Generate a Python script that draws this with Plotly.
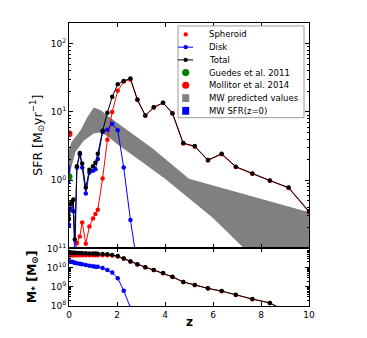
import plotly.graph_objects as go
from plotly.subplots import make_subplots

# ---------------- data ----------------
z = [0, 0.06, 0.12, 0.18, 0.24, 0.33, 0.45, 0.55, 0.7, 0.85, 1.0, 1.1, 1.2, 1.4, 1.6, 1.8,
     2.03, 2.28, 2.56, 2.85, 3.18, 3.53, 3.92, 4.31, 4.76, 5.24, 5.79, 6.36, 6.95, 7.64,
     8.37, 9.15, 10.0]

sfr_total = [0.27, 0.45, 0.47, 0.52, 0.135, 1.6, 2.5, 1.75, 0.78, 1.42, 1.6, 1.8, 2.45,
             5.3, 9.7, 16.7, 25.4, 28.5, 31, 15.2, 8.9, 11.7, 13.7, 9.6, 3.5, 3.16, 1.97,
             2.45, 1.58, 1.25, 0.99, 0.78, 0.35]

sfr_spheroid = [None, None, None, None, 0.06, 0.12, 0.15, 0.24, 0.117, 0.21, 0.275, 0.32,
                0.37, 1.06, 3.9, 10, 20.4, 28, 30, 15.0, 8.8, 11.6, 13.6, 9.5, 3.45, 3.1,
                1.95, 2.4, 1.56, 1.24, 0.98, 0.77, 0.34]

sfr_disk = [0.22, 0.38, 0.47, 0.35, 0.07, 1.53, 2.4, 1.53, 0.64, 1.3, 1.37, 1.45, 2.05,
            5.1, 5.5, 6.7, 5.4, 1.53, 0.26, 0.056]

mass_total = [6.0e10, 6.0e10, 5.9e10, 5.9e10, 5.9e10, 5.75e10, 5.75e10, 5.6e10, 5.6e10,
              5.5e10, 5.4e10, 5.4e10, 5.25e10, 5.1e10, 4.9e10, 4.6e10, 4.0e10, 3.0e10,
              2.1e10, 1.48e10, 1.05e10, 7.6e9, 5.2e9, 3.3e9, 1.8e9, 1.26e9, 8.3e8, 6.0e8,
              3.8e8, 2.3e8, 1.45e8, 4.5e7, 2.0e7]

mass_spheroid = [4.45e10, 4.45e10, 4.45e10, 4.45e10, 4.45e10, 4.45e10, 4.45e10, 4.45e10,
                 4.45e10, 4.45e10, 4.45e10, 4.45e10, 4.45e10, 4.45e10, 4.4e10, 4.3e10,
                 3.8e10, 2.95e10, 2.08e10, 1.47e10, 1.04e10, 7.5e9, 5.15e9, 3.27e9, 1.78e9,
                 1.25e9, 8.2e8, 5.95e8, 3.77e8, 2.28e8, 1.44e8, 4.45e7, 1.98e7]

mass_disk = [2.1e10, 2.05e10, 2.0e10, 1.9e10, 1.78e10, 1.7e10, 1.58e10, 1.48e10, 1.35e10,
             1.26e10, 1.17e10, 1.12e10, 1.1e10, 9.5e9, 7.6e9, 5.5e9, 2.8e9, 6.3e8, 8.0e7]

# MW predicted band (upper / lower edges)
band_up_z = [0, 0.1, 0.47, 0.75, 1.03, 1.31, 1.72, 2.28, 3.5, 5.0, 10.0]
band_up_sfr = [2.8, 3.6, 5.3, 8.2, 11.6, 10.7, 8.2, 5.9, 2.9, 1.05, 0.34]
band_lo_z = [0, 0.27, 0.61, 1.03, 1.3, 1.58, 2.0, 3.0, 4.0, 5.0, 6.0, 7.3, 10.0]
band_lo_sfr = [1.15, 2.6, 3.8, 4.85, 5.0, 4.5, 3.4, 1.9, 1.05, 0.55, 0.28, 0.1, 0.02]

# MW SFR(z=0) range
mw_z = [-0.05, 0.05]
mw_sfr = [0.88, 1.65]

guedes_z, guedes_sfr = [0], [1.12]
mollitor_z, mollitor_sfr = [0], [4.8]

x_ticks = [0, 2, 4, 6, 8, 10]
sfr_tickvals = [1, 10, 100]
sfr_ticktext = ["10<sup>0</sup>", "10<sup>1</sup>", "10<sup>2</sup>"]
mass_tickvals = [1e8, 1e9, 1e10, 1e11]
mass_ticktext = ["10<sup>8</sup>", "10<sup>9</sup>", "10<sup>10</sup>", "10<sup>11</sup>"]

legend_labels = ["Spheroid", "Disk", "Total", "Guedes et al. 2011", "Mollitor et al. 2014",
                 "MW predicted values", "MW SFR(z=0)"]
legend_colors = ["#ff0000", "#0000ff", "black", "#008000", "#ff0000", "#808080", "#0000ff"]
legend_kinds = ["dot", "linedot", "linedot", "bigdot", "bigdot", "square", "square"]

# ---------------- layout constants ----------------
FONT = "DejaVu Sans"
W, H = 359, 330
ML, MR, MT, MB = 61, 58, 8, 32
PW, PH = W - ML - MR, H - MT - MB      # plot area in px
H_BOT = 59

fig = make_subplots(rows=2, cols=1, shared_xaxes=True, vertical_spacing=0,
                    row_heights=[PH - H_BOT, H_BOT])

# band
fig.add_trace(go.Scatter(x=band_up_z + band_lo_z[::-1], y=band_up_sfr + band_lo_sfr[::-1],
                         fill="toself", fillcolor="#808080", mode="lines",
                         line=dict(width=0, color="#808080"), showlegend=False), row=1, col=1)
# MW SFR z=0 rectangle
fig.add_trace(go.Scatter(x=[mw_z[0], mw_z[1], mw_z[1], mw_z[0]],
                         y=[mw_sfr[0], mw_sfr[0], mw_sfr[1], mw_sfr[1]],
                         fill="toself", fillcolor="#0000ff", mode="lines",
                         line=dict(width=0, color="#0000ff"), showlegend=False), row=1, col=1)
# spheroid
fig.add_trace(go.Scatter(x=z, y=sfr_spheroid, mode="lines+markers",
                         line=dict(color="#ff0000", width=1),
                         marker=dict(color="#ff0000", size=4.5), showlegend=False), row=1, col=1)
# disk
fig.add_trace(go.Scatter(x=z[:len(sfr_disk)], y=sfr_disk, mode="lines+markers",
                         line=dict(color="#0000ff", width=1),
                         marker=dict(color="#0000ff", size=4.5), showlegend=False), row=1, col=1)
# total
fig.add_trace(go.Scatter(x=z, y=sfr_total, mode="lines+markers",
                         line=dict(color="black", width=1),
                         marker=dict(color="black", size=4.5), showlegend=False), row=1, col=1)
# observations
fig.add_trace(go.Scatter(x=guedes_z, y=guedes_sfr, mode="markers",
                         marker=dict(color="#008000", size=7), showlegend=False), row=1, col=1)
fig.add_trace(go.Scatter(x=mollitor_z, y=mollitor_sfr, mode="markers",
                         marker=dict(color="#ff0000", size=7), showlegend=False), row=1, col=1)

# mass panel
fig.add_trace(go.Scatter(x=z, y=mass_spheroid, mode="lines+markers",
                         line=dict(color="#ff0000", width=1),
                         marker=dict(color="#ff0000", size=4.5), showlegend=False), row=2, col=1)
fig.add_trace(go.Scatter(x=z[:len(mass_disk)], y=mass_disk, mode="lines+markers",
                         line=dict(color="#0000ff", width=1),
                         marker=dict(color="#0000ff", size=4.5), showlegend=False), row=2, col=1)
fig.add_trace(go.Scatter(x=z, y=mass_total, mode="lines+markers",
                         line=dict(color="black", width=1),
                         marker=dict(color="black", size=4.5), showlegend=False), row=2, col=1)

axis_common = dict(showline=True, linecolor="black", linewidth=1, mirror="ticks",
                   ticks="inside", ticklen=4, tickcolor="black", showgrid=False,
                   zeroline=False, tickfont=dict(family=FONT, size=9, color="black"))

fig.update_xaxes(range=[0, 10], tickvals=x_ticks, **axis_common)
fig.update_xaxes(showticklabels=False, row=1, col=1)
fig.update_yaxes(type="log", range=[-1, 2.304], tickmode="array", tickvals=sfr_tickvals,
                 ticktext=sfr_ticktext,
                 minor=dict(ticks="inside", ticklen=2, tickcolor="black", dtick="D1"),
                 row=1, col=1, **axis_common)
fig.update_yaxes(type="log", range=[8, 11], tickmode="array", tickvals=mass_tickvals,
                 ticktext=mass_ticktext,
                 minor=dict(ticks="inside", ticklen=2, tickcolor="black", dtick="D1"),
                 row=2, col=1, **axis_common)

# ---------------- custom legend (paper coords) ----------------
def px_x(dx):   # px offset from plot left -> paper
    return dx / PW

def px_y(dy):   # px offset from plot top -> paper
    return 1 - dy / PH

shapes = []
annotations = []
LEG_L, LEG_R, LEG_T, LEG_B = 109, 235, 3, 97      # box, px relative to plot area
ROW0, ROW_GAP = 11.7, 13.05
SYM_L, SYM_R, SYM_C, TXT_L = 109, 124, 116.7, 138
shapes.append(dict(type="rect", xref="paper", yref="paper",
                   x0=px_x(LEG_L), x1=px_x(LEG_R), y0=px_y(LEG_B), y1=px_y(LEG_T),
                   fillcolor="white", line=dict(color="#999999", width=1), layer="above"))
for i, (lab, col, kind) in enumerate(zip(legend_labels, legend_colors, legend_kinds)):
    yc = ROW0 + i * ROW_GAP
    if kind == "linedot":
        shapes.append(dict(type="line", xref="paper", yref="paper",
                           x0=px_x(SYM_L), x1=px_x(SYM_R), y0=px_y(yc), y1=px_y(yc),
                           line=dict(color=col, width=1), layer="above"))
    if kind in ("dot", "linedot", "bigdot"):
        r = 2.2 if kind != "bigdot" else 3.6
        shapes.append(dict(type="circle", xref="paper", yref="paper",
                           x0=px_x(SYM_C - r), x1=px_x(SYM_C + r),
                           y0=px_y(yc + r), y1=px_y(yc - r),
                           fillcolor=col, line=dict(color=col, width=0), layer="above"))
    else:
        shapes.append(dict(type="rect", xref="paper", yref="paper",
                           x0=px_x(SYM_C - 3.5), x1=px_x(SYM_C + 3.5),
                           y0=px_y(yc + 4), y1=px_y(yc - 4),
                           fillcolor=col, line=dict(color=col, width=0), layer="above"))
    annotations.append(dict(text=lab, xref="paper", yref="paper", x=px_x(TXT_L), y=px_y(yc),
                            xanchor="left", yanchor="middle", showarrow=False,
                            font=dict(family=FONT, size=8.5, color="black")))

annotations += [
    dict(text="SFR [M<sub>⊙</sub>yr<sup>−1</sup>]", xref="paper", yref="paper",
         x=0, y=1 - (PH - H_BOT) / 2 / PH, xanchor="center", yanchor="middle",
         xshift=-32, textangle=-90, showarrow=False,
         font=dict(family=FONT, size=12.5, color="black")),
    dict(text="<b>M<sub>*</sub> [M<sub>⊙</sub>]</b>", xref="paper", yref="paper",
         x=0, y=H_BOT / 2 / PH, xanchor="center", yanchor="middle",
         xshift=-37, textangle=-90, showarrow=False,
         font=dict(family=FONT, size=12.5, color="black")),
    dict(text="<b>z</b>", xref="paper", yref="paper", x=0.5, y=0,
         xanchor="center", yanchor="middle", yshift=-16, showarrow=False,
         font=dict(family=FONT, size=12, color="black")),
]

fig.update_layout(
    width=W, height=H, autosize=False,
    margin=dict(l=ML, r=MR, t=MT, b=MB),
    paper_bgcolor="white", plot_bgcolor="white",
    font=dict(family=FONT, size=9, color="black"),
    showlegend=False,
    shapes=shapes,
    annotations=annotations,
)

fig.write_html("out.html")
